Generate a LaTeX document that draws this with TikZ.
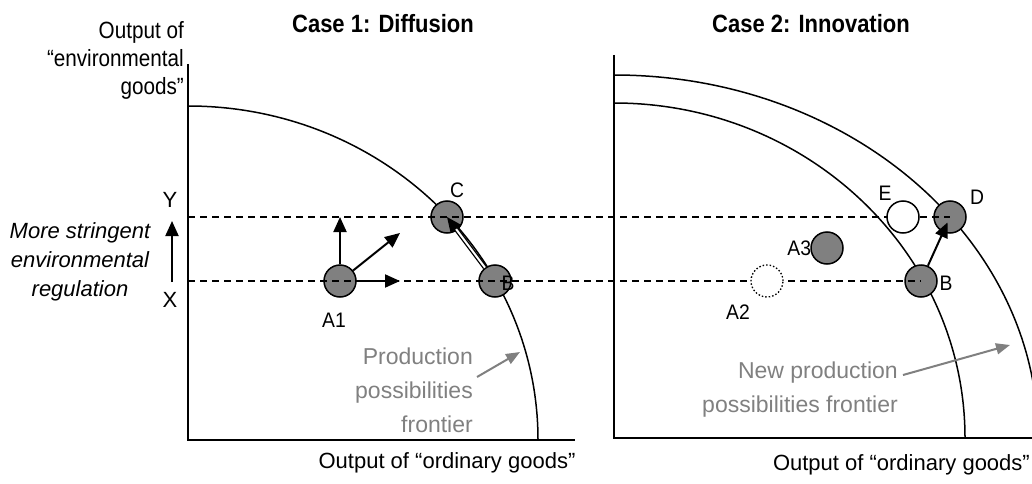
\documentclass[tikz,border=0pt]{standalone}
\usepackage{fontspec}
\setmainfont{Liberation Sans}
\newfontfamily\narrowfont{Liberation Sans}[FakeStretch=0.88]
\newfontfamily\labelfont{Liberation Sans}[FakeStretch=0.92]
\usetikzlibrary{arrows.meta}
\definecolor{ppfGray}{RGB}{128,128,128}
\tikzset{
  firm/.style={circle, draw=black, line width=1.5pt, fill=ppfGray, minimum size=32pt, inner sep=0pt},
  openfirm/.style={firm, fill=white},
  ghostfirm/.style={firm, fill=white, dotted, line width=1.3pt},
  axisline/.style={line width=1.8pt},
  ppf/.style={line width=1.5pt},
  ruleline/.style={dash pattern=on 7pt off 5pt, line width=1.5pt},
  move/.style={-{Triangle[length=15pt,width=13pt]}, line width=2pt},
  note/.style={-{Triangle[length=14pt,width=11pt]}, line width=2pt, draw=ppfGray},
  ptlabel/.style={inner sep=0pt, font=\labelfont\fontsize{21}{24}\selectfont},
  axlabel/.style={inner sep=0pt, font=\fontsize{22}{27}\selectfont},
  title/.style={inner sep=0pt, font=\narrowfont\bfseries\fontsize{25}{30}\selectfont},
  graytext/.style={inner sep=0pt, align=right, text=ppfGray, font=\fontsize{23}{34}\selectfont}
}
\begin{document}
\begin{tikzpicture}[x=1pt, y=1pt]
\useasboundingbox (0,0) rectangle (1032,483);
\clip (0,0) rectangle (1032,483);
% case 1
\node[title] (case1) at (383,459) {Case 1: Diffusion};
\draw[axisline] (188,419) -- (188,43) -- (575,43);
\draw[ppf] (188,377) arc[start angle=90, end angle=0, x radius=350, y radius=334];
\node[inner sep=0pt, align=right, anchor=east, font=\narrowfont\fontsize{23.5}{28}\selectfont] (yaxis) at (184,423)
  {Output of\\“environmental\\goods”};
\node[axlabel] (xaxis1) at (447,20) {Output of “ordinary goods”};
\node[firm] (A1) at (340,202) {};
\node[firm] (C) at (447,266) {};
\node[firm] (B1) at (495,202) {};
\node[ptlabel] (A1lab) at (334,163) {A1};
\node[ptlabel] (Clab) at (457,293) {C};
\node[ptlabel] (B1lab) at (508,200) {B};
\node[axlabel] (Ylab) at (170,283) {Y};
\node[axlabel] (Xlab) at (170,183) {X};
\coordinate (regLow) at (172,201);
\coordinate (regHigh) at (172,262);
\draw[move] (regLow) -- (regHigh);
\node[inner sep=0pt, align=center, font=\itshape\fontsize{22}{29}\selectfont] (reg) at (80,221)
  {More stringent\\environmental\\regulation};
\node[graytext, anchor=east] (ppfnote) at (473,93) {Production\\possibilities\\frontier};
\coordinate (ppftip) at (520,131);
\draw[note] ([shift={(4,13)}]ppfnote.east) -- (ppftip);
% case 2
\node[title] (case2) at (811,459) {Case 2: Innovation};
\draw[axisline] (614,428) -- (614,45) -- (1032,45);
\draw[ppf] (614,380) arc[start angle=90, end angle=0, x radius=351, y radius=335];
\draw[ppf] (614,408) arc[start angle=90, end angle=0, x radius=424, y radius=363];
\node[axlabel, anchor=east] (xaxis2) at (1030,18) {Output of “ordinary goods”};
\node[firm] (D) at (950,266) {};
\node[firm] (B2) at (921,202) {};
\node[firm] (A3) at (827,235) {};
\node[ptlabel] (Elab) at (885,290) {E};
\node[ptlabel] (Dlab) at (977,286) {D};
\node[ptlabel] (B2lab) at (946,200) {B};
\node[ptlabel, anchor=east] (A3lab) at ([xshift=1pt]A3.west) {A3};
\node[ptlabel] (A2lab) at (738,171) {A2};
\node[graytext, anchor=east] (newppf) at (898,93) {New production\\possibilities frontier};
\coordinate (newtip) at (1010,138);
\draw[note] ([shift={(5,15)}]newppf.east) -- (newtip);
% regulation levels
\draw[ruleline] (188,266) -- (D.center);
\draw[ruleline] (188,202) -- (B2.center);
\node[openfirm] (E) at (903,266) {};
\node[ghostfirm] (A2) at (767,202) {};
% moves
\coordinate (a1up) at (340,266);
\coordinate (a1diag) at (400,250);
\coordinate (a1right) at (400,202);
\draw[move] (A1) -- (a1up);
\draw[move] (A1) -- (a1diag);
\draw[move] (A1) -- (a1right);
\draw[move, double=white, double distance=2pt, line width=1.3pt] (B1) -- (C.center);
\draw[move, shorten >=6pt] (B2) -- (D.center);
\end{tikzpicture}
\end{document}
